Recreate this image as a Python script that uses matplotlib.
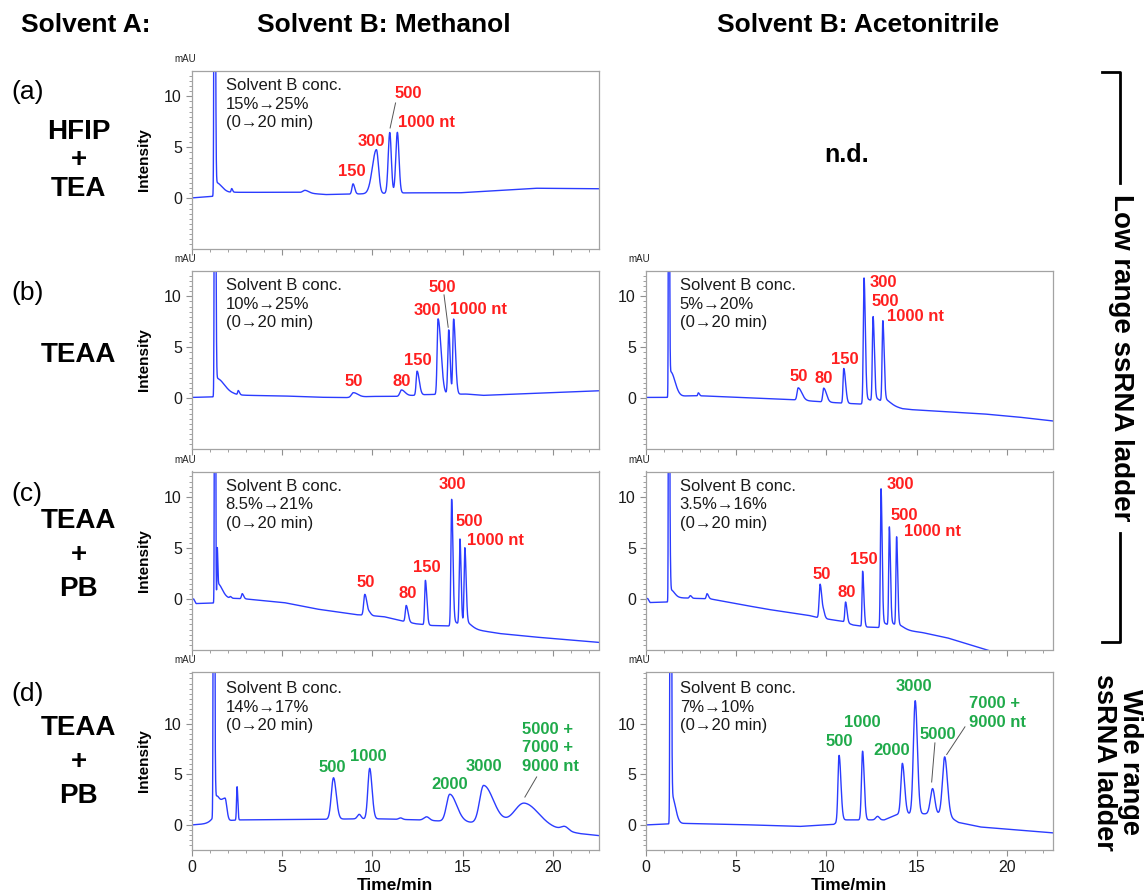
import numpy as np
import matplotlib
matplotlib.use("Agg")
import matplotlib.pyplot as plt
from matplotlib.ticker import MultipleLocator, FixedLocator
from matplotlib.lines import Line2D

plt.rcParams['font.family'] = ['Liberation Sans', 'DejaVu Sans']

# ---------------- data ----------------
TIME_MAX = 22.5
X_TICKS = [0, 5, 10, 15, 20]
Y_TICKS = [0, 5, 10]

HEADERS = ["Solvent A:", "Solvent B: Methanol", "Solvent B: Acetonitrile"]
ROW_TAGS = ["(a)", "(b)", "(c)", "(d)"]
ROW_SOLVENTS = [["HFIP", "+", "TEA"], ["TEAA"], ["TEAA", "+", "PB"], ["TEAA", "+", "PB"]]
GRADIENTS = {
    "a_meoh": "Solvent B conc.\n15%\u219225%\n(0\u219220 min)",
    "b_meoh": "Solvent B conc.\n10%\u219225%\n(0\u219220 min)",
    "b_acn": "Solvent B conc.\n5%\u219220%\n(0\u219220 min)",
    "c_meoh": "Solvent B conc.\n8.5%\u219221%\n(0\u219220 min)",
    "c_acn": "Solvent B conc.\n3.5%\u219216%\n(0\u219220 min)",
    "d_meoh": "Solvent B conc.\n14%\u219217%\n(0\u219220 min)",
    "d_acn": "Solvent B conc.\n7%\u219210%\n(0\u219220 min)",
}

# (a) HFIP+TEA / methanol
A_MEOH_BASE_T = [0, 1.15, 2.3, 5.9, 7.4, 9.5, 12.0, 14.8, 19.0, 22.5]
A_MEOH_BASE_Y = [0.05, 0.2, 0.6, 0.6, 0.38, 0.45, 0.55, 0.55, 1.0, 0.95]
A_MEOH_PK_T = [1.27, 1.32, 2.22, 6.28, 8.93, 10.22, 10.96, 11.38]
A_MEOH_PK_H = [60, 1.3, 0.35, 0.25, 1.0, 4.3, 5.95, 5.95]
A_MEOH_PK_WL = [0.025, 0.03, 0.03, 0.12, 0.06, 0.22, 0.085, 0.085]
A_MEOH_PK_WR = [0.04, 0.35, 0.05, 0.2, 0.09, 0.12, 0.085, 0.09]

# (b) TEAA / methanol
B_MEOH_BASE_T = [0, 1.2, 2.3, 3.2, 5, 7, 8.5, 10, 11.3, 13.0, 15.2, 16.1, 19.75, 22.5]
B_MEOH_BASE_Y = [0.1, 0.15, 0.35, 0.3, 0.25, 0.12, 0.08, 0.2, 0.2, 0.38, 0.43, 0.3, 0.55, 0.75]
B_MEOH_PK_T = [1.29, 1.36, 2.58, 8.94, 11.6, 12.47, 13.63, 14.22, 14.49]
B_MEOH_PK_H = [60, 1.8, 0.4, 0.45, 0.6, 2.35, 7.4, 6.3, 7.35]
B_MEOH_PK_WL = [0.025, 0.03, 0.03, 0.1, 0.08, 0.05, 0.05, 0.05, 0.045]
B_MEOH_PK_WR = [0.04, 0.45, 0.07, 0.25, 0.2, 0.12, 0.16, 0.075, 0.1]

# (b) TEAA / acetonitrile
B_ACN_BASE_T = [0, 1.25, 2.3, 3.2, 8.0, 9.5, 10.8, 11.9, 13.3, 14.2, 14.75, 16.67, 18.6, 20.5, 22.5]
B_ACN_BASE_Y = [0.1, 0.1, 0.25, 0.25, -0.1, -0.3, -0.45, -0.55, -0.55, -1.0, -1.1, -1.3, -1.5, -1.8, -2.2]
B_ACN_PK_T = [1.29, 1.38, 2.92, 8.44, 9.85, 10.96, 12.08, 12.2, 12.58, 12.7, 13.12, 13.25]
B_ACN_PK_H = [60, 2.5, 0.3, 1.2, 1.35, 3.4, 12.1, 0.5, 8.1, 0.5, 7.8, 0.4]
B_ACN_PK_WL = [0.02, 0.03, 0.03, 0.06, 0.05, 0.04, 0.04, 0.1, 0.04, 0.1, 0.04, 0.1]
B_ACN_PK_WR = [0.03, 0.25, 0.06, 0.2, 0.15, 0.1, 0.07, 0.3, 0.07, 0.3, 0.07, 0.3]

# (c) TEAA+PB / methanol
C_MEOH_BASE_T = [0, 0.12, 0.25, 1.25, 1.35, 2.5, 3.0, 5.1, 6.9, 9.1, 10.6, 11.5, 12.4, 13.3, 14.2, 15.5, 17.0, 18.8, 22.5]
C_MEOH_BASE_Y = [0, 0, -0.45, -0.4, 0.1, 0.05, 0.0, -0.35, -0.98, -1.54, -1.72, -2.1, -2.43, -2.6, -2.65, -2.95, -3.38, -3.7, -4.25]
C_MEOH_PK_T = [1.29, 1.42, 1.45, 2.15, 2.8, 9.58, 9.85, 11.87, 12.93, 14.38, 14.5, 14.84, 14.95, 15.11, 15.25]
C_MEOH_PK_H = [60, 4.0, 1.4, 0.15, 0.5, 2.05, 0.2, 1.6, 4.35, 12.2, 0.5, 8.2, 0.5, 7.3, 0.4]
C_MEOH_PK_WL = [0.02, 0.015, 0.03, 0.04, 0.04, 0.06, 0.05, 0.05, 0.04, 0.04, 0.1, 0.04, 0.1, 0.04, 0.1]
C_MEOH_PK_WR = [0.03, 0.03, 0.25, 0.06, 0.08, 0.12, 0.1, 0.1, 0.08, 0.07, 0.25, 0.06, 0.25, 0.07, 0.3]

# (c) TEAA+PB / acetonitrile
C_ACN_BASE_T = [0, 0.12, 0.25, 1.25, 1.35, 2.1, 3.6, 5.13, 6.7, 9.0, 9.46, 10.9, 11.48, 12.25, 12.85, 14.17, 15.33, 16.67, 18.79, 22.5]
C_ACN_BASE_Y = [0.05, 0.05, -0.35, -0.3, 0.2, 0.1, 0.0, -0.5, -1.0, -1.6, -1.8, -2.2, -2.55, -2.75, -2.8, -3.0, -3.3, -3.8, -4.95, -6.95]
C_ACN_PK_T = [1.29, 1.35, 1.4, 2.48, 3.4, 9.65, 9.85, 11.06, 12.0, 13.02, 13.15, 13.48, 13.6, 13.88, 14.0]
C_ACN_PK_H = [60, 4.3, 0.7, 0.25, 0.5, 3.3, 0.4, 2.0, 5.4, 13.4, 0.5, 9.5, 0.5, 8.6, 0.35]
C_ACN_PK_WL = [0.02, 0.015, 0.03, 0.05, 0.04, 0.05, 0.04, 0.04, 0.03, 0.035, 0.1, 0.035, 0.1, 0.035, 0.1]
C_ACN_PK_WR = [0.03, 0.03, 0.2, 0.07, 0.08, 0.1, 0.08, 0.08, 0.07, 0.06, 0.25, 0.06, 0.25, 0.06, 0.3]

# (d) TEAA+PB wide range / methanol
D_MEOH_BASE_T = [0, 1.15, 2.15, 2.7, 7.0, 9.0, 10.5, 12.5, 15.3, 17.3, 20.2, 21.5, 22.5]
D_MEOH_BASE_Y = [0, 0.15, 0.45, 0.5, 0.55, 0.6, 0.6, 0.5, 0.25, 0.05, -0.45, -0.86, -1.05]
D_MEOH_PK_T = [1.23, 1.35, 1.85, 2.52, 7.85, 9.27, 9.85, 11.56, 13.0, 14.28, 16.15, 18.4, 20.64]
D_MEOH_PK_H = [60, 1.5, 2.3, 3.3, 4.1, 0.45, 5.0, 0.15, 0.35, 2.7, 3.75, 2.3, 0.4]
D_MEOH_PK_WL = [0.025, 0.03, 0.4, 0.03, 0.12, 0.1, 0.1, 0.1, 0.15, 0.18, 0.22, 0.55, 0.2]
D_MEOH_PK_WR = [0.04, 0.15, 0.1, 0.04, 0.15, 0.1, 0.13, 0.1, 0.15, 0.38, 0.55, 0.8, 0.2]

# (d) TEAA+PB wide range / acetonitrile
D_ACN_BASE_T = [0, 1.3, 2.2, 5, 8.5, 10.4, 10.8, 12.5, 13.2, 14.0, 16.3, 16.9, 17.3, 18.5, 22.5]
D_ACN_BASE_Y = [0, 0.1, 0.15, 0.05, -0.15, 0.05, 0.5, 0.5, 0.5, 1.1, 1.1, 0.7, 0.25, -0.2, -0.78]
D_ACN_PK_T = [1.38, 1.45, 10.7, 12.0, 12.83, 14.2, 14.91, 15.87, 16.54]
D_ACN_PK_H = [60, 2.8, 6.5, 6.8, 0.35, 5.0, 11.2, 2.5, 5.8]
D_ACN_PK_WL = [0.025, 0.03, 0.06, 0.06, 0.1, 0.08, 0.1, 0.12, 0.12]
D_ACN_PK_WR = [0.04, 0.2, 0.1, 0.09, 0.1, 0.12, 0.12, 0.12, 0.15]

RED_LABELS_LOW = ["50", "80", "150", "300", "500", "1000 nt"]
GREEN_LABELS_MEOH = ["500", "1000", "2000", "3000", "5000 +\n7000 +\n9000 nt"]
GREEN_LABELS_ACN = ["500", "1000", "2000", "3000", "5000", "7000 +\n9000 nt"]

# ---------------- layout ----------------
W, H = 1145, 894
fig = plt.figure(figsize=(W / 100, H / 100), dpi=100)


def fx(x):
    return x / W


def fy(y):
    return 1 - y / H


COLS = [(191.5, 598.5), (645.5, 1052.5)]
ROWS = [(71, 249), (271, 449), (471.5, 649.5), (672, 850)]
YLIM_LOW = (-4.95, 12.48)
YLIM_WIDE = (-2.48, 15.14)

RED = '#ff1f1f'
GREEN = '#1faa4a'
BLUE = '#2b3cff'
T = np.linspace(0, TIME_MAX, 9001)


def build(bt, by, pt, ph, pwl, pwr):
    y = np.interp(T, bt, by)
    for c, h, wl, wr in zip(pt, ph, pwl, pwr):
        s = np.where(T < c, wl, wr)
        y = y + h * np.exp(-0.5 * ((T - c) / s) ** 2)
    return y


def make_axes(col, row, ylim, xlabels):
    x0, x1 = COLS[col]
    y0, y1 = ROWS[row]
    ax = fig.add_axes([fx(x0), fy(y1), (x1 - x0) / W, (y1 - y0) / H])
    ax.set_xlim(0, TIME_MAX)
    ax.set_ylim(*ylim)
    for sp in ax.spines.values():
        sp.set_color('#a3a3a3')
        sp.set_linewidth(0.9)
    ax.xaxis.set_major_locator(FixedLocator(X_TICKS))
    ax.xaxis.set_minor_locator(MultipleLocator(1))
    ax.yaxis.set_major_locator(FixedLocator(Y_TICKS))
    ax.yaxis.set_minor_locator(MultipleLocator(0.5))
    ax.tick_params(which='both', direction='out', color='#909090',
                   labelsize=11.5, labelcolor='#1a1a1a')
    ax.tick_params(which='major', length=4, width=0.8, pad=3)
    ax.tick_params(which='minor', length=2.5, width=0.6)
    if not xlabels:
        ax.tick_params(axis='x', which='both', labelbottom=False)
    ax.text(-0.015, 1.066, 'mAU', transform=ax.transAxes, fontsize=7,
            ha='center', va='center', color='#222')
    return ax


def gradient_text(ax, key, ytop):
    ax.text(0.084, ytop, GRADIENTS[key], transform=ax.transAxes, fontsize=12,
            ha='left', va='top', linespacing=1.3, color='#1a1a1a')


def lab(ax, s, t, y, color, ha='center'):
    ax.text(t, y, s, fontsize=12, fontweight='bold', color=color, ha=ha,
            va='center', linespacing=1.32)


def leader(ax, t0, y0, t1, y1):
    ax.plot([t0, t1], [y0, y1], color='#555555', lw=0.7)


# (a) methanol
ax = make_axes(0, 0, YLIM_LOW, False)
ax.plot(T, build(A_MEOH_BASE_T, A_MEOH_BASE_Y, A_MEOH_PK_T, A_MEOH_PK_H, A_MEOH_PK_WL, A_MEOH_PK_WR), color=BLUE, lw=1.0)
gradient_text(ax, "a_meoh", 0.96)
lab(ax, "150", 8.89, 2.65, RED)
lab(ax, "300", 9.95, 5.6, RED)
lab(ax, "500", 11.97, 10.26, RED)
lab(ax, "1000 nt", 11.43, 7.39, RED, 'left')
leader(ax, 11.28, 9.35, 10.98, 6.9)

# (b) methanol
ax = make_axes(0, 1, YLIM_LOW, False)
ax.plot(T, build(B_MEOH_BASE_T, B_MEOH_BASE_Y, B_MEOH_PK_T, B_MEOH_PK_H, B_MEOH_PK_WL, B_MEOH_PK_WR), color=BLUE, lw=1.0)
gradient_text(ax, "b_meoh", 0.96)
pos = [(8.98, 1.7, 'center'), (11.6, 1.7, 'center'), (12.52, 3.76, 'center'),
       (13.04, 8.66, 'center'), (13.87, 10.9, 'center'), (14.29, 8.75, 'left')]
for s, (t, y, ha) in zip(RED_LABELS_LOW, pos):
    lab(ax, s, t, y, RED, ha)
leader(ax, 13.96, 10.14, 14.19, 6.97)

# (b) acetonitrile
ax = make_axes(1, 1, YLIM_LOW, False)
ax.plot(T, build(B_ACN_BASE_T, B_ACN_BASE_Y, B_ACN_PK_T, B_ACN_PK_H, B_ACN_PK_WL, B_ACN_PK_WR), color=BLUE, lw=1.0)
gradient_text(ax, "b_acn", 0.96)
pos = [(8.49, 2.19, 'center'), (9.87, 1.96, 'center'), (11.03, 3.85, 'center'),
       (12.37, 11.37, 'left'), (12.5, 9.54, 'left'), (13.37, 8.0, 'left')]
for s, (t, y, ha) in zip(RED_LABELS_LOW, pos):
    lab(ax, s, t, y, RED, ha)

# (c) methanol
ax = make_axes(0, 2, YLIM_LOW, False)
ax.plot(T, build(C_MEOH_BASE_T, C_MEOH_BASE_Y, C_MEOH_PK_T, C_MEOH_PK_H, C_MEOH_PK_WL, C_MEOH_PK_WR), color=BLUE, lw=1.0)
gradient_text(ax, "c_meoh", 0.96)
pos = [(9.61, 1.63, 'center'), (11.94, 0.49, 'center'), (13.0, 3.1, 'center'),
       (14.41, 11.18, 'center'), (15.34, 7.61, 'center'), (15.21, 5.72, 'left')]
for s, (t, y, ha) in zip(RED_LABELS_LOW, pos):
    lab(ax, s, t, y, RED, ha)

# (c) acetonitrile
ax = make_axes(1, 2, YLIM_LOW, False)
ax.plot(T, build(C_ACN_BASE_T, C_ACN_BASE_Y, C_ACN_PK_T, C_ACN_PK_H, C_ACN_PK_WL, C_ACN_PK_WR), color=BLUE, lw=1.0)
gradient_text(ax, "c_acn", 0.96)
pos = [(9.73, 2.38, 'center'), (11.13, 0.65, 'center'), (12.05, 3.85, 'center'),
       (13.31, 11.18, 'left'), (13.55, 8.17, 'left'), (14.27, 6.63, 'left')]
for s, (t, y, ha) in zip(RED_LABELS_LOW, pos):
    lab(ax, s, t, y, RED, ha)

# (d) methanol
ax = make_axes(0, 3, YLIM_WIDE, True)
ax.plot(T, build(D_MEOH_BASE_T, D_MEOH_BASE_Y, D_MEOH_PK_T, D_MEOH_PK_H, D_MEOH_PK_WL, D_MEOH_PK_WR), color=BLUE, lw=1.0)
gradient_text(ax, "d_meoh", 0.95)
pos = [(7.79, 5.68, 'center'), (9.77, 6.8, 'center'), (14.27, 3.99, 'center'),
       (16.15, 5.74, 'center'), (18.25, 7.63, 'left')]
for s, (t, y, ha) in zip(GREEN_LABELS_MEOH, pos):
    lab(ax, s, t, y, GREEN, ha)
leader(ax, 19.08, 4.75, 18.43, 2.76)

# (d) acetonitrile
ax = make_axes(1, 3, YLIM_WIDE, True)
ax.plot(T, build(D_ACN_BASE_T, D_ACN_BASE_Y, D_ACN_PK_T, D_ACN_PK_H, D_ACN_PK_WL, D_ACN_PK_WR), color=BLUE, lw=1.0)
gradient_text(ax, "d_acn", 0.95)
pos = [(10.7, 8.29, 'center'), (11.98, 10.15, 'center'), (13.63, 7.4, 'center'),
       (14.83, 13.75, 'center'), (16.16, 8.99, 'center'), (17.88, 11.05, 'left')]
for s, (t, y, ha) in zip(GREEN_LABELS_ACN, pos):
    lab(ax, s, t, y, GREEN, ha)
leader(ax, 16.0, 8.12, 15.82, 4.25)
leader(ax, 17.66, 9.71, 16.65, 6.97)

# axis titles
for row in range(4):
    yc = (ROWS[row][0] + ROWS[row][1]) / 2
    fig.text(fx(144), fy(yc), "Intensity", rotation=90, fontsize=11,
             fontweight='bold', ha='center', va='center')
fig.text(fx(395), fy(885), "Time/min", fontsize=12.5, fontweight='bold', ha='center', va='center')
fig.text(fx(849), fy(885), "Time/min", fontsize=12.5, fontweight='bold', ha='center', va='center')

# headers
fig.text(fx(21), fy(25), HEADERS[0], fontsize=19, fontweight='bold', ha='left', va='center')
fig.text(fx(383.5), fy(25), HEADERS[1], fontsize=19, fontweight='bold', ha='center', va='center')
fig.text(fx(858.5), fy(25), HEADERS[2], fontsize=19, fontweight='bold', ha='center', va='center')
fig.text(fx(847), fy(155), "n.d.", fontsize=18, fontweight='bold', ha='center', va='center')

# row labels
tag_y = [92, 293, 493.5, 694]
stack_y = [[132, 160, 189], [355], [521, 555, 589], [728, 762, 796]]
for tag, ty, words, ys in zip(ROW_TAGS, tag_y, ROW_SOLVENTS, stack_y):
    fig.text(fx(11.5), fy(ty), tag, fontsize=19, ha='left', va='center')
    for w, yy in zip(words, ys):
        fig.text(fx(78.5), fy(yy), w, fontsize=20, fontweight='bold', ha='center', va='center')

# right-side brackets and ladder labels
for xs, ys in [([1102, 1120, 1120], [72, 72, 183]), ([1120, 1120, 1102], [533, 642, 642])]:
    fig.add_artist(Line2D([fx(v) for v in xs], [fy(v) for v in ys], color='black', lw=2.0,
                          transform=fig.transFigure))
fig.text(fx(1121), fy(358), "Low range ssRNA ladder", rotation=270, fontsize=20,
         fontweight='bold', ha='center', va='center')
fig.text(fx(1117), fy(762), "Wide range\nssRNA ladder", rotation=270, fontsize=19.5,
         fontweight='bold', ha='center', va='center', multialignment='center', linespacing=1.0)

fig.savefig("out.png", dpi=100)
